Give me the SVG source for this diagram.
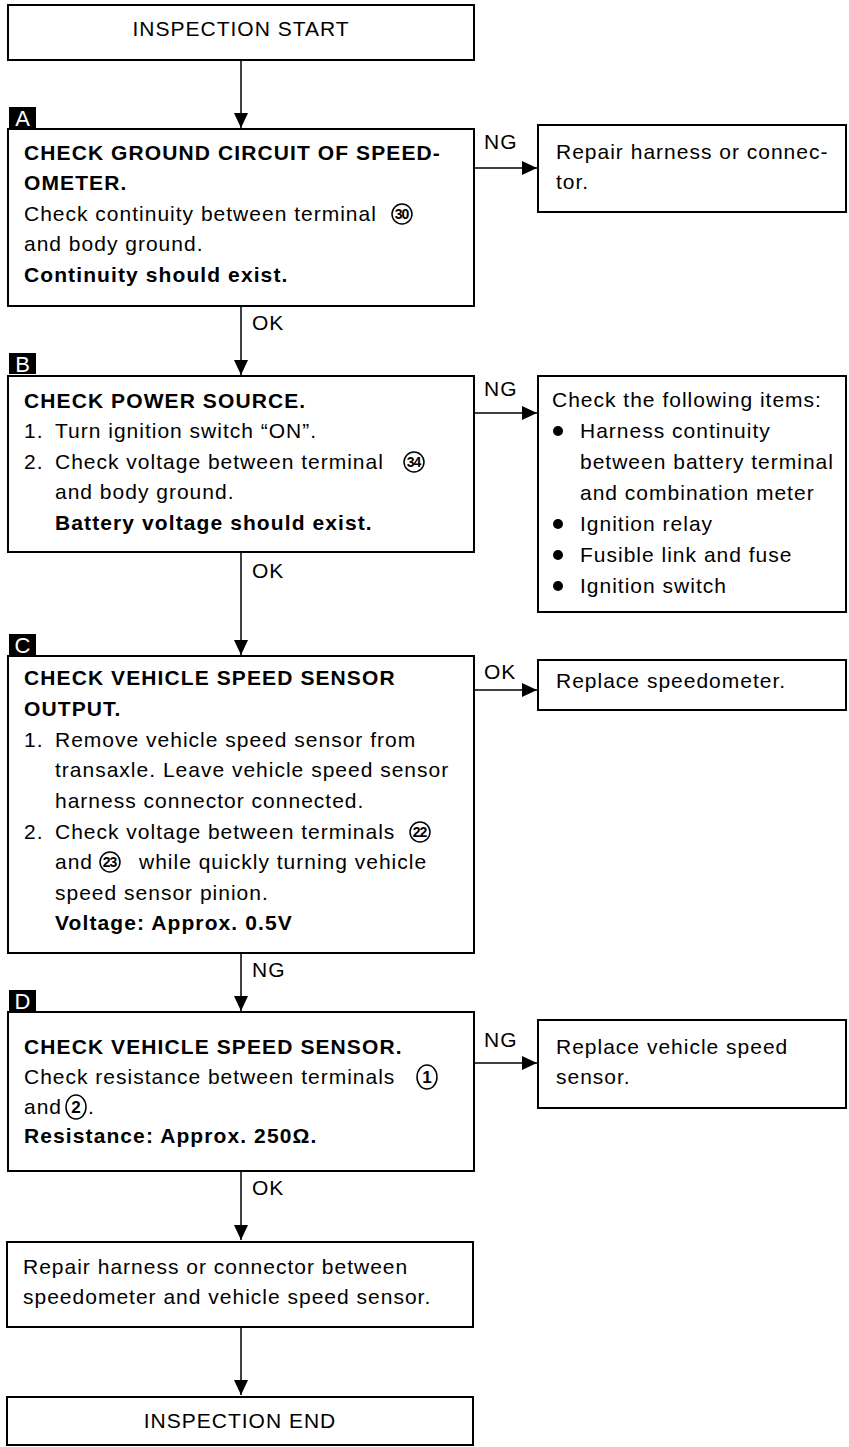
<svg xmlns="http://www.w3.org/2000/svg" width="849" height="1447" viewBox="0 0 849 1447">
<style>
text{font-family:"Liberation Sans",Arial,Helvetica,sans-serif;fill:#000}
.t{font-size:21px;letter-spacing:1px}
.b{font-size:21px;font-weight:bold;letter-spacing:1.1px}
.lbl{font-size:22px;fill:#fff}
.box{fill:#fff;stroke:#000;stroke-width:2}
.tag{fill:#000}
.cn{font-size:14px;font-weight:bold;letter-spacing:-1px;text-anchor:middle}
.cn2{font-size:17px;font-weight:bold;text-anchor:middle}
.circ{fill:none;stroke:#000;stroke-width:1.5}
.ln{fill:none;stroke:#000;stroke-width:1.5}
</style>
<defs>
<marker id="av" markerUnits="userSpaceOnUse" markerWidth="14" markerHeight="16" refX="7" refY="15" orient="0">
<path d="M0,0 L14,0 L7,15 Z" fill="#000"/>
</marker>
<marker id="ah" markerUnits="userSpaceOnUse" markerWidth="16" markerHeight="14" refX="15" refY="7" orient="0">
<path d="M0,0 L15,7 L0,14 Z" fill="#000"/>
</marker>
</defs>

<g id="connectors">
<line class="ln" x1="241" y1="60" x2="241" y2="128" marker-end="url(#av)"/>
<line class="ln" x1="474" y1="168" x2="537" y2="168" marker-end="url(#ah)"/>
<text class="t" x="484" y="149">NG</text>
<line class="ln" x1="241" y1="306" x2="241" y2="375" marker-end="url(#av)"/>
<text class="t" x="252" y="330">OK</text>
<line class="ln" x1="474" y1="413" x2="537" y2="413" marker-end="url(#ah)"/>
<text class="t" x="484" y="396">NG</text>
<line class="ln" x1="241" y1="552" x2="241" y2="655" marker-end="url(#av)"/>
<text class="t" x="252" y="578">OK</text>
<line class="ln" x1="474" y1="690" x2="537" y2="690" marker-end="url(#ah)"/>
<text class="t" x="484" y="679">OK</text>
<line class="ln" x1="241" y1="953" x2="241" y2="1011" marker-end="url(#av)"/>
<text class="t" x="252" y="977">NG</text>
<line class="ln" x1="474" y1="1063" x2="537" y2="1063" marker-end="url(#ah)"/>
<text class="t" x="484" y="1047">NG</text>
<line class="ln" x1="241" y1="1171" x2="241" y2="1240" marker-end="url(#av)"/>
<text class="t" x="252" y="1195">OK</text>
<line class="ln" x1="241" y1="1327" x2="241" y2="1395" marker-end="url(#av)"/>
</g>

<g id="start">
<rect class="box" x="8" y="5" width="466" height="55"/>
<text class="t" x="241" y="36" text-anchor="middle">INSPECTION START</text>
</g>

<g id="stepA">
<rect class="tag" x="9" y="107" width="27" height="21"/>
<text class="lbl" x="22.5" y="126" text-anchor="middle">A</text>
<rect class="box" x="8" y="129" width="466" height="177"/>
<text class="b" x="24" y="160">CHECK GROUND CIRCUIT OF SPEED-</text>
<text class="b" x="24" y="190">OMETER.</text>
<text class="t" x="24" y="221">Check continuity between terminal</text>
<circle class="circ" cx="402" cy="214" r="10"/>
<text class="cn" x="401.5" y="219">30</text>
<text class="t" x="24" y="251">and body ground.</text>
<text class="b" x="24" y="282">Continuity should exist.</text>
</g>

<g id="repairA">
<rect class="box" x="538" y="125" width="308" height="87"/>
<text class="t" x="556" y="159">Repair harness or connec-</text>
<text class="t" x="556" y="189">tor.</text>
</g>

<g id="stepB">
<rect class="tag" x="9" y="353" width="27" height="21"/>
<text class="lbl" x="22.5" y="372" text-anchor="middle">B</text>
<rect class="box" x="8" y="376" width="466" height="176"/>
<text class="b" x="24" y="408">CHECK POWER SOURCE.</text>
<text class="t" x="24" y="438">1.</text>
<text class="t" x="55" y="438">Turn ignition switch “ON”.</text>
<text class="t" x="24" y="469">2.</text>
<text class="t" x="55" y="469">Check voltage between terminal</text>
<circle class="circ" cx="414" cy="462" r="10"/>
<text class="cn" x="413.5" y="467">34</text>
<text class="t" x="55" y="499">and body ground.</text>
<text class="b" x="55" y="530">Battery voltage should exist.</text>
</g>

<g id="checkItems">
<rect class="box" x="538" y="376" width="308" height="236"/>
<text class="t" x="552" y="407">Check the following items:</text>
<circle cx="558" cy="431" r="5"/>
<text class="t" x="580" y="438">Harness continuity</text>
<text class="t" x="580" y="469">between battery terminal</text>
<text class="t" x="580" y="500">and combination meter</text>
<circle cx="558" cy="524" r="5"/>
<text class="t" x="580" y="531">Ignition relay</text>
<circle cx="558" cy="555" r="5"/>
<text class="t" x="580" y="562">Fusible link and fuse</text>
<circle cx="558" cy="586" r="5"/>
<text class="t" x="580" y="593">Ignition switch</text>
</g>

<g id="stepC">
<rect class="tag" x="9" y="634" width="27" height="21"/>
<text class="lbl" x="22.5" y="653" text-anchor="middle">C</text>
<rect class="box" x="8" y="656" width="466" height="297"/>
<text class="b" x="24" y="685">CHECK VEHICLE SPEED SENSOR</text>
<text class="b" x="24" y="716">OUTPUT.</text>
<text class="t" x="24" y="747">1.</text>
<text class="t" x="55" y="747">Remove vehicle speed sensor from</text>
<text class="t" x="55" y="777">transaxle. Leave vehicle speed sensor</text>
<text class="t" x="55" y="808">harness connector connected.</text>
<text class="t" x="24" y="839">2.</text>
<text class="t" x="55" y="839">Check voltage between terminals</text>
<circle class="circ" cx="420" cy="832" r="10"/>
<text class="cn" x="419.5" y="837">22</text>
<text class="t" x="55" y="869">and</text>
<circle class="circ" cx="110" cy="862" r="10"/>
<text class="cn" x="109.5" y="867">23</text>
<text class="t" x="139" y="869">while quickly turning vehicle</text>
<text class="t" x="55" y="900">speed sensor pinion.</text>
<text class="b" x="55" y="930">Voltage: Approx. 0.5V</text>
</g>

<g id="replaceMeter">
<rect class="box" x="538" y="660" width="308" height="50"/>
<text class="t" x="556" y="688">Replace speedometer.</text>
</g>

<g id="stepD">
<rect class="tag" x="9" y="990" width="27" height="21"/>
<text class="lbl" x="22.5" y="1009" text-anchor="middle">D</text>
<rect class="box" x="8" y="1012" width="466" height="159"/>
<text class="b" x="24" y="1054">CHECK VEHICLE SPEED SENSOR.</text>
<text class="t" x="24" y="1084">Check resistance between terminals</text>
<ellipse class="circ" cx="427" cy="1077" rx="10" ry="12"/>
<text class="cn2" x="427" y="1083">1</text>
<text class="t" x="24" y="1114">and</text>
<ellipse class="circ" cx="76" cy="1107" rx="10" ry="12"/>
<text class="cn2" x="76" y="1113">2</text>
<text class="t" x="88" y="1114">.</text>
<text class="b" x="24" y="1143">Resistance: Approx. 250Ω.</text>
</g>

<g id="replaceSensor">
<rect class="box" x="538" y="1020" width="308" height="88"/>
<text class="t" x="556" y="1054">Replace vehicle speed</text>
<text class="t" x="556" y="1084">sensor.</text>
</g>

<g id="repairHarness">
<rect class="box" x="7" y="1242" width="466" height="85"/>
<text class="t" x="23" y="1274">Repair harness or connector between</text>
<text class="t" x="23" y="1304">speedometer and vehicle speed sensor.</text>
</g>

<g id="end">
<rect class="box" x="7" y="1397" width="466" height="48"/>
<text class="t" x="240" y="1428" text-anchor="middle">INSPECTION END</text>
</g>
</svg>
